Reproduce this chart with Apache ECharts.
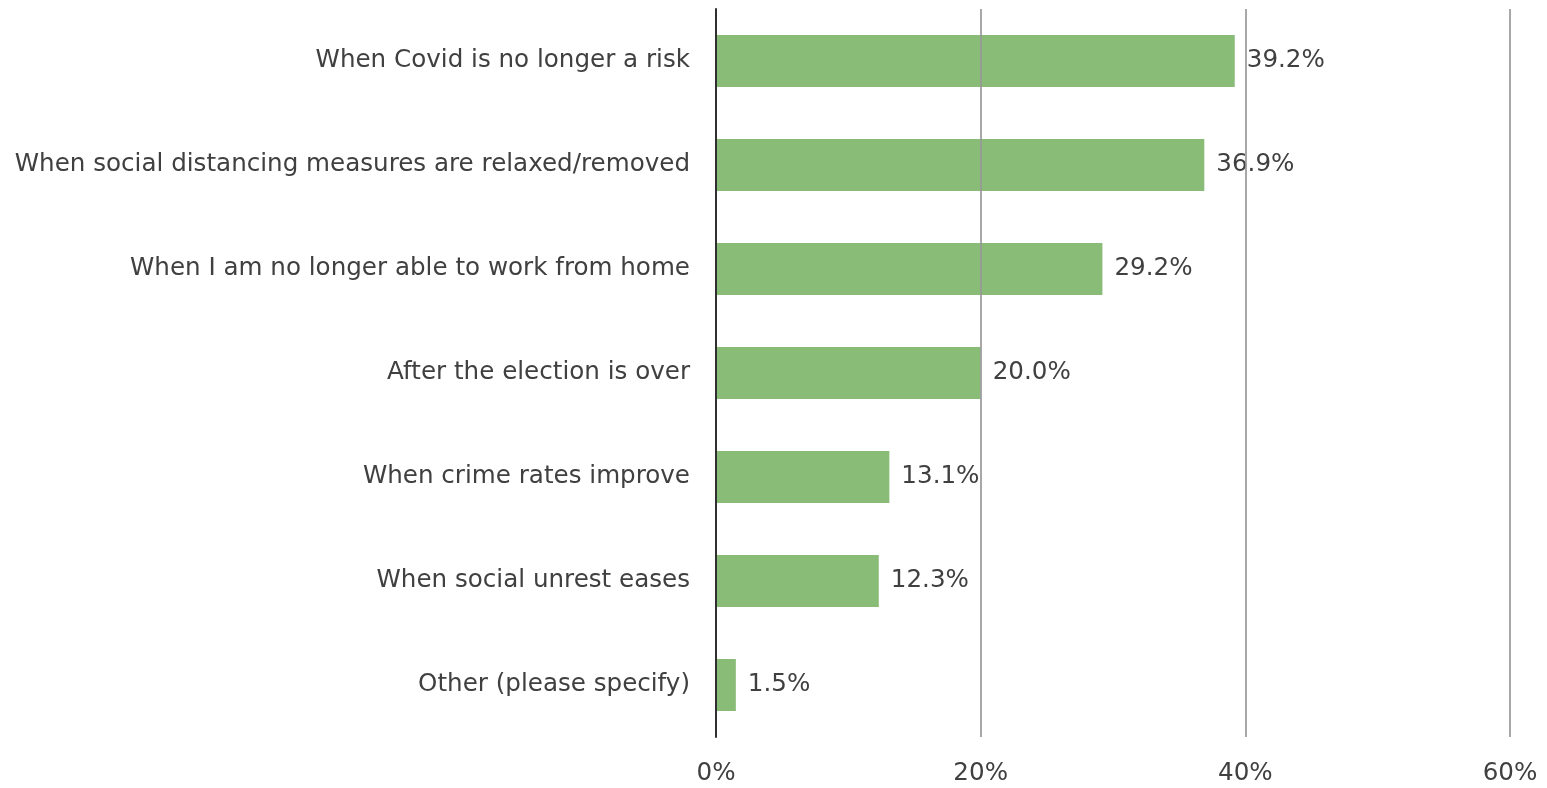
<!DOCTYPE html>
<html>
<head>
<meta charset="utf-8">
<script src="https://cdn.jsdelivr.net/npm/echarts@6/dist/echarts.min.js"></script>
<style>
  html, body { margin: 0; padding: 0; background: #fff; }
  #chart { width: 1547px; height: 788px; }
</style>
</head>
<body>
<div id="chart"></div>
<script>
// Answer options, top to bottom
const categories = [
  'When Covid is no longer a risk',
  'When social distancing measures are relaxed/removed',
  'When I am no longer able to work from home',
  'After the election is over',
  'When crime rates improve',
  'When social unrest eases',
  'Other (please specify)'
];
// Share of respondents, percent
const values = [39.2, 36.9, 29.2, 20.0, 13.1, 12.3, 1.5];
const tickValues = [0, 20, 40, 60];

const FONT = '"DejaVu Sans", sans-serif';
const chart = echarts.init(document.getElementById('chart'));
chart.setOption({
  animation: false,
  grid: { left: 716, right: 37, top: 9, bottom: 51, containLabel: false },
  xAxis: {
    type: 'value',
    min: tickValues[0],
    max: tickValues[tickValues.length - 1],
    interval: 20,
    z: 3,
    axisLine: { show: false },
    axisTick: { show: false },
    axisLabel: {
      formatter: v => v + '%',
      color: '#404040',
      fontSize: 24.6,
      fontFamily: FONT,
      margin: 24
    },
    splitLine: { show: true, lineStyle: { color: '#999', width: 2, opacity: 0.85 } }
  },
  yAxis: {
    type: 'category',
    data: categories,
    inverse: true,
    z: 4,
    axisLine: { show: true, lineStyle: { color: '#303030', width: 2 } },
    axisTick: { show: false },
    axisLabel: {
      color: '#404040',
      fontSize: 24.6,
      fontFamily: FONT,
      margin: 26,
      padding: [6, 0, 0, 0]
    }
  },
  series: [{
    type: 'bar',
    data: values,
    barWidth: '50%',
    itemStyle: { color: '#88BC77' },
    label: {
      show: true,
      position: 'right',
      distance: 12,
      padding: [6, 0, 0, 0],
      formatter: p => p.value.toFixed(1) + '%',
      color: '#404040',
      fontSize: 24.6,
      fontFamily: FONT
    }
  }]
});
</script>
</body>
</html>
